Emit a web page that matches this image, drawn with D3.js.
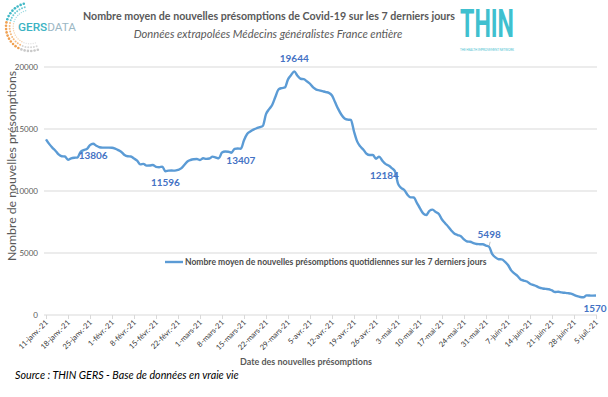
<!DOCTYPE html>
<html>
<head>
<meta charset="utf-8">
<script src="https://cdn.jsdelivr.net/npm/d3@7"></script>
<style>
  body { margin: 0; background: #fff; }
  svg { display: block; font-family: Lato, "Open Sans", sans-serif; }
</style>
</head>
<body>
<svg id="chart" width="608" height="397"></svg>
<script>
// daily values, 11-janv-21 -> 5-juil-21
const startDate = new Date(2021, 0, 11);
const values = [
  14170, 13800, 13500, 13250, 12950, 12800, 12780, 12520, 12630, 12680,
  12700, 13150, 13300, 13380, 13700, 13806, 13650, 13530, 13500, 13500,
  13500, 13490, 13420, 13300, 13150, 12900, 12800, 12780, 12620, 12450,
  12150, 12190, 12050, 12060, 12100, 11950, 11920, 11960, 11596, 11640,
  11650, 11640, 11700, 11820, 12100, 12380, 12500, 12560, 12580, 12500,
  12640, 12590, 12620, 12770, 12700, 12640, 13100, 13180, 13170, 13090,
  13400, 13430, 13407, 14100, 14600, 14800, 14950, 15060, 15150, 15250,
  16200, 16600, 16950, 17600, 18200, 18300, 18350, 19000, 19350, 19644,
  19300, 19050, 19020, 18850, 18650, 18350, 18180, 18120, 18050, 17980,
  17920, 17700, 17150, 16600, 16150, 15850, 15760, 15730, 14800, 14000,
  13600, 13330, 13000, 12900, 12900, 12600, 12770, 12450, 12184, 12050,
  11850, 11600, 10600, 10250, 10080, 9700, 9490, 9480, 9050, 8600,
  8200, 8070, 8400, 8500, 8300, 8150, 7700, 7400, 7120, 6800,
  6550, 6450, 6350, 6100, 5930, 5910, 5800, 5730, 5710, 5700,
  5600, 5498, 4900, 4650, 4500, 4490, 4300, 4030, 3600, 3350,
  3150, 2870, 2780, 2700, 2520, 2420, 2330, 2200, 2140, 2110,
  2080, 1980, 1850, 1880, 1820, 1790, 1760, 1720, 1620, 1520,
  1450, 1430, 1580, 1570, 1560, 1570
];
const tickLabels = [
  "11-janv.-21", "18-janv.-21", "25-janv.-21", "1-févr.-21", "8-févr.-21",
  "15-févr.-21", "22-févr.-21", "1-mars-21", "8-mars-21", "15-mars-21",
  "22-mars-21", "29-mars-21", "5-avr.-21", "12-avr.-21", "19-avr.-21",
  "26-avr.-21", "3-mai-21", "10-mai-21", "17-mai-21", "24-mai-21",
  "31-mai-21", "7-juin-21", "14-juin-21", "21-juin-21", "28-juin-21", "5-juil.-21"
];
const yTicks = [0, 5000, 10000, 15000, 20000];
const labelDays = [15, 38, 62, 79, 108, 141, 175]; // points with a value label

const title = "Nombre moyen de nouvelles présomptions de Covid-19 sur les 7 derniers jours";
const subtitle = "Données extrapolées Médecins généralistes France entière";
const seriesName = "Nombre moyen de nouvelles présomptions quotidiennes sur les 7 derniers jours";

const dates = values.map((v, i) => d3.timeDay.offset(startDate, i));
const tickDates = tickLabels.map((t, i) => d3.timeDay.offset(startDate, i * 7));

const svg = d3.select('#chart');
const grey = '#595959';
const blue = '#5B9BD5';
const labelBlue = '#4472C4';

const x = d3.scaleTime()
  .domain([dates[0], dates[dates.length - 1]])
  .range([46, 596]);
const y = d3.scaleLinear()
  .domain([0, 20000])
  .range([315, 67]);

// shrink/grow font so a text fits a given width
function fitText(sel, w) {
  const node = sel.node();
  const fs = parseFloat(sel.attr('font-size'));
  const len = node.getComputedTextLength();
  sel.attr('font-size', (fs * w / len).toFixed(2));
}

// gridlines
svg.append('g')
  .selectAll('line')
  .data(yTicks.filter(d => d > 0))
  .enter().append('line')
  .attr('x1', 44).attr('x2', 597)
  .attr('y1', d => y(d)).attr('y2', d => y(d))
  .attr('stroke', '#d9d9d9').attr('stroke-width', 1);

// y axis labels
const yAxis = svg.append('g')
  .attr('transform', 'translate(44,0)')
  .call(d3.axisLeft(y).tickValues(yTicks).tickSize(0).tickPadding(6).tickFormat(d3.format('d')));
yAxis.select('.domain').remove();
yAxis.selectAll('text').attr('font-size', 8).attr('fill', grey).attr('font-family', 'Lato');

// x axis
const xAxis = svg.append('g')
  .attr('transform', `translate(0,${y(0)})`)
  .call(d3.axisBottom(x).tickValues(tickDates).tickSize(4).tickFormat((d, i) => tickLabels[i]));
xAxis.select('.domain').attr('d', 'M44,0H597').attr('stroke', '#d9d9d9');
xAxis.selectAll('.tick line').attr('stroke', '#d9d9d9');
xAxis.selectAll('.tick text')
  .attr('font-size', 7.5)
  .attr('font-family', 'Lato')
  .attr('fill', '#333')
  .attr('text-anchor', 'end')
  .attr('dy', 0)
  .attr('y', 0)
  .attr('transform', 'translate(2,8) rotate(-45)');

// line
const line = d3.line()
  .x((d, i) => x(dates[i]))
  .y(d => y(d))
  .curve(d3.curveMonotoneX);

svg.append('path')
  .datum(values)
  .attr('d', line)
  .attr('fill', 'none')
  .attr('stroke', blue)
  .attr('stroke-width', 2.4)
  .attr('stroke-linejoin', 'round');

// value labels
const above = new Set([79, 141]);
const lbl = svg.append('g');
labelDays.forEach(i => {
  const px = x(dates[i]);
  const py = y(values[i]);
  let dx = 0, dy = above.has(i) ? -9 : 15;
  if (i === 108) { dx = -1; dy = 15; }
  if (i === 175) { dx = -1; dy = 16; }
  if (i === 141) {
    lbl.append('line')
      .attr('x1', px).attr('y1', py - 1)
      .attr('x2', px + 1).attr('y2', py - 5)
      .attr('stroke', '#a6a6a6').attr('stroke-width', 0.7);
  }
  lbl.append('text')
    .attr('x', px + dx).attr('y', py + dy)
    .attr('text-anchor', 'middle')
    .attr('font-size', 10)
    .attr('font-weight', 700)
    .attr('fill', labelBlue)
    .text(d3.format('d')(values[i]));
});

// legend
svg.append('line')
  .attr('x1', 165).attr('x2', 183)
  .attr('y1', 262).attr('y2', 262)
  .attr('stroke', blue).attr('stroke-width', 2.4);
svg.append('text')
  .attr('x', 185).attr('y', 265)
  .attr('font-size', 9)
  .attr('font-weight', 700)
  .attr('fill', '#4d4d4d')
  .text(seriesName)
  .call(fitText, 302);

// axis titles
svg.append('text')
  .attr('transform', 'translate(16,166) rotate(-90)')
  .attr('text-anchor', 'middle')
  .attr('font-size', 13)
  .attr('fill', grey)
  .text('Nombre de nouvelles présomptions')
  .call(fitText, 190);

svg.append('text')
  .attr('x', 306).attr('y', 365)
  .attr('text-anchor', 'middle')
  .attr('font-size', 12)
  .attr('font-weight', 700)
  .attr('fill', grey)
  .text('Date des nouvelles présomptions')
  .call(fitText, 132);

svg.append('text')
  .attr('x', 15).attr('y', 379)
  .attr('font-size', 10)
  .attr('font-style', 'italic')
  .attr('fill', '#000')
  .text('Source : THIN GERS - Base de données en vraie vie')
  .call(fitText, 224);

// titles
svg.append('text')
  .attr('x', 269).attr('y', 20)
  .attr('text-anchor', 'middle')
  .attr('font-size', 13)
  .attr('font-weight', 700)
  .attr('fill', grey)
  .text(title)
  .call(fitText, 372);

svg.append('text')
  .attr('x', 268).attr('y', 38)
  .attr('text-anchor', 'middle')
  .attr('font-size', 13)
  .attr('font-style', 'italic')
  .attr('fill', grey)
  .text(subtitle)
  .call(fitText, 269);

// GERSDATA logo: arc of dots + wordmark
const logo = svg.append('g');
d3.range(0, 24).forEach(k => {
  const rad = (-75 + k * 8) * Math.PI / 180;  // from upper right, round the left side
  for (let ring = 0; ring < 3; ring++) {
    const rr = 24 - ring * 3.6;
    const cx = 30 - rr * Math.cos(rad);
    const cy = 27 + rr * Math.sin(rad);
    let col;
    if (k < 8) col = '#3fb8c6';
    else if (k < 18) col = '#f0a050';
    else col = '#c9c9c9';
    logo.append('circle')
      .attr('cx', cx).attr('cy', cy)
      .attr('r', 1.3 - ring * 0.3)
      .attr('fill', col)
      .attr('opacity', 1 - ring * 0.25);
  }
});
const gers = logo.append('text')
  .attr('x', 18).attr('y', 31)
  .attr('font-size', 16)
  .attr('font-family', 'Roboto');
gers.append('tspan').attr('fill', '#3bb3c3').attr('font-weight', 500).text('GERS');
gers.append('tspan').attr('fill', '#9bb7c4').text('DATA');
fitText(gers, 58);

// THIN logo
svg.append('text')
  .attr('x', 460).attr('y', 37)
  .attr('font-size', 38)
  .attr('font-family', 'Roboto')
  .attr('font-weight', 700)
  .attr('fill', '#3fc0cf')
  .attr('textLength', 54)
  .attr('lengthAdjust', 'spacingAndGlyphs')
  .text('THIN');
svg.append('text')
  .attr('x', 460).attr('y', 50.5)
  .attr('font-size', 3)
  .attr('fill', '#3fc0cf')
  .attr('textLength', 54)
  .attr('lengthAdjust', 'spacingAndGlyphs')
  .text('THE HEALTH IMPROVEMENT NETWORK');
</script>
</body>
</html>
